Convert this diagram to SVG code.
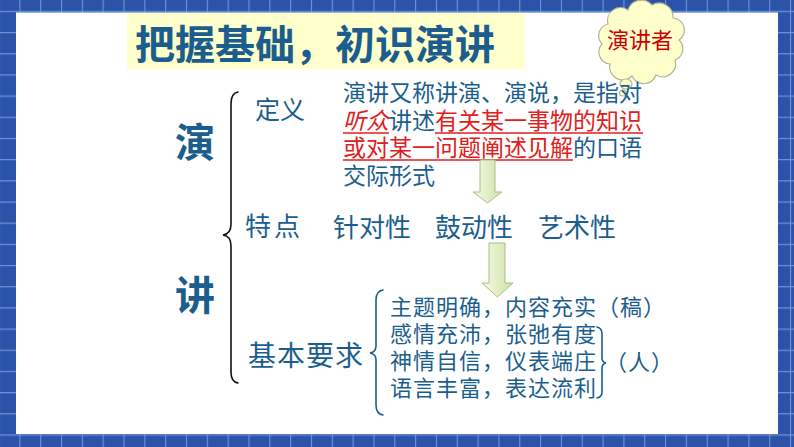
<svg xmlns="http://www.w3.org/2000/svg" width="794" height="447" viewBox="0 0 794 447">
<style>
.t{font-family:"Noto Sans CJK SC","Noto Sans",sans-serif;fill:#1b5e8e}
.b{font-weight:bold}
.r{fill:#e02020}
.brace{fill:none;stroke-width:1.6;stroke-linecap:round}
.arrow{fill:url(#ag);stroke:#a7bf86;stroke-width:1}
</style>
<defs>
<pattern id="grid" patternUnits="userSpaceOnUse" x="19.3" y="10.8" width="20.83" height="21.18">
<rect width="20.83" height="21.18" fill="#2b54a8"/>
<path d="M0.5,0 V21.18 M0,0.5 H20.83" stroke="#7093d6" stroke-width="1.2"/>
</pattern>
<linearGradient id="ag" x1="0" y1="0" x2="1" y2="0">
<stop offset="0" stop-color="#f6fae6"/>
<stop offset="1" stop-color="#cfe2a6"/>
</linearGradient>
</defs>
<rect width="794" height="447" fill="url(#grid)"/>
<rect x="16" y="12.5" width="762" height="421.5" fill="#ffffff"/>

<g id="title">
<rect x="127" y="13" width="398" height="56" fill="#ffffcc"/>
<text class="t b" x="135" y="59" font-size="40">把握基础，初识演讲</text>
</g>

<g id="cloud">
<path d="M608,24 A13,13 0 0 1 628,10 A14,14 0 0 1 652,5 A14,14 0 0 1 673,18 A12,12 0 0 1 679,40 A12,12 0 0 1 675,60 A13,13 0 0 1 656,75 A13,13 0 0 1 632,76 A13,13 0 0 1 610,64 A12,12 0 0 1 602,44 A12,12 0 0 1 608,24 Z" fill="#ffffcc" stroke="#b4b494" stroke-width="1.2"/>
<ellipse cx="626" cy="84" rx="6" ry="5" fill="#ffffcc" stroke="#b4b494" stroke-width="1.2"/>
<ellipse cx="623" cy="93" rx="3.5" ry="3" fill="#ffffcc" stroke="#b4b494" stroke-width="1.2"/>
<text x="640" y="48" font-size="22" text-anchor="middle" fill="#cc0000" font-family="Noto Sans CJK SC, sans-serif">演讲者</text>
</g>

<g id="yan-jiang">
<text class="t b" x="175" y="157" font-size="40">演</text>
<text class="t b" x="175" y="310" font-size="40">讲</text>
</g>

<g id="definition">
<text class="t" x="255" y="119" font-size="25">定义</text>
<text class="t" x="343" y="101" font-size="23">演讲又称讲演、演说，是指对</text>
<text class="t" x="343" y="129" font-size="23"><tspan class="r" font-style="italic">听众</tspan>讲述<tspan class="r">有关某一事物的知识</tspan></text>
<text class="t" x="343" y="156" font-size="23"><tspan class="r">或对某一问题阐述见解</tspan>的口语</text>
<text class="t" x="343" y="184" font-size="23">交际形式</text>
<path d="M343,133 H389 M435,133 H643 M343,160 H573" stroke="#e02020" stroke-width="1.5"/>
</g>

<g id="features">
<text class="t" x="245" y="236" font-size="26" letter-spacing="3">特点</text>
<text class="t" x="333" y="237" font-size="26">针对性</text>
<text class="t" x="435" y="237" font-size="26">鼓动性</text>
<text class="t" x="538" y="237" font-size="26">艺术性</text>
</g>

<g id="requirements">
<text class="t" x="248" y="366" font-size="28" letter-spacing="1">基本要求</text>
<text class="t" x="390" y="315" font-size="22" letter-spacing="1">主题明确，内容充实（稿）</text>
<text class="t" x="390" y="342" font-size="22" letter-spacing="1">感情充沛，张弛有度</text>
<text class="t" x="390" y="369" font-size="22" letter-spacing="1">神情自信，仪表端庄</text>
<text class="t" x="390" y="396" font-size="22" letter-spacing="1">语言丰富，表达流利</text>
<text class="t" x="605" y="370" font-size="22" letter-spacing="1">（人）</text>
</g>

<g id="connectors">
<path class="brace" stroke="#111111" d="M238,92 Q231,93 231,104 L231,224 Q231,234 223,235 Q231,236 231,246 L231,372 Q231,382 238,383"/>
<path class="brace" stroke="#1b5e8e" d="M383,290 Q376,291 376,300 L376,346 Q376,352 370,353 Q376,354 376,360 L376,405 Q376,414 383,415"/>
<path class="brace" stroke="#1b5e8e" stroke-width="1.3" d="M597,327 Q602,328 602,334 L602,358 Q602,362 606,363 Q602,364 602,368 L602,392 Q602,397 597,398"/>
<path class="arrow" d="M480,160 H495 V192 H502 L487.5,203 L473,192 H480 Z"/>
<path class="arrow" d="M489,243 H505 V283 H513 L497.5,297 L482,283 H489 Z"/>
</g>
</svg>
